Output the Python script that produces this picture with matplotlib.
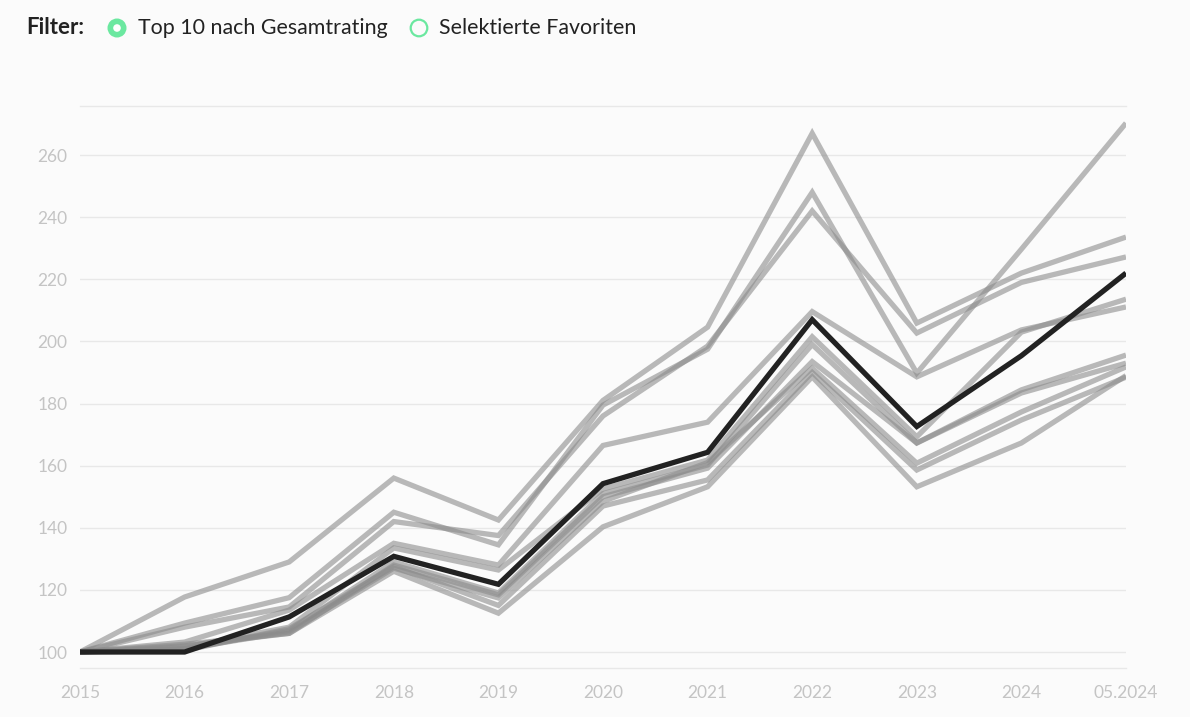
import matplotlib
matplotlib.use("Agg")
import matplotlib.pyplot as plt
from matplotlib.patches import Circle

# --- data (indexed, 2015 = 100) ---
periods = ["2015", "2016", "2017", "2018", "2019", "2020",
           "2021", "2022", "2023", "2024", "05.2024"]

highlight = [100, 100, 111.3, 130.8, 121.8, 154.2, 164.3, 207.0, 172.6, 195.4, 222.0]

fund_1 = [100, 117.7, 129.0, 156.0, 142.5, 181.0, 204.6, 267.0, 205.9, 222.0, 233.6]
fund_2 = [100, 109.3, 117.5, 145.0, 134.5, 179.5, 197.5, 248.0, 189.8, 229.7, 270.3]
fund_3 = [100, 108.0, 114.5, 142.0, 137.5, 176.0, 198.5, 242.0, 202.7, 219.0, 227.2]
fund_4 = [100, 103.2, 113.5, 135.0, 128.0, 166.5, 174.0, 209.6, 188.6, 203.7, 211.1]
fund_5 = [100, 101.6, 108.0, 133.5, 126.4, 152.5, 161.8, 201.5, 169.3, 203.0, 213.6]
fund_6 = [100, 101.0, 107.0, 129.0, 119.0, 151.0, 160.2, 199.0, 167.3, 184.4, 195.6]
fund_7 = [100, 102.0, 106.0, 128.0, 118.4, 150.0, 159.2, 193.5, 167.3, 183.4, 193.0]
fund_8 = [100, 101.0, 106.5, 127.0, 117.4, 148.5, 161.0, 191.4, 160.8, 177.3, 191.8]
fund_9 = [100, 100.5, 107.5, 127.5, 115.0, 147.0, 155.4, 190.0, 158.6, 174.7, 188.5]
fund_10 = [100, 102.5, 106.0, 126.0, 112.5, 140.3, 153.2, 188.6, 153.2, 167.3, 189.0]

funds = [fund_1, fund_2, fund_3, fund_4, fund_5,
         fund_6, fund_7, fund_8, fund_9, fund_10]

y_ticks = [100, 120, 140, 160, 180, 200, 220, 240, 260]

W, H = 1190, 717
BG = "#fbfbfb"
GRID = "#e8e8e8"
TICK = "#c4c4c4"
GREEN = "#6be8a0"

plt.rcParams["font.family"] = ["Lato", "DejaVu Sans"]

fig = plt.figure(figsize=(W / 100, H / 100), dpi=100, facecolor=BG)

left, right, top, bottom = 80, 1126, 106, 668
ax = fig.add_axes([left / W, 1 - bottom / H, (right - left) / W, (bottom - top) / H])
ax.set_facecolor(BG)

x = list(range(len(periods)))
for f in funds:
    ax.plot(x, f, color="#8c8c8c", alpha=0.6, linewidth=3.8,
            solid_joinstyle="miter", solid_capstyle="butt", zorder=2)
ax.plot(x, highlight, color="#222222", linewidth=3.8,
        solid_joinstyle="miter", solid_capstyle="butt", zorder=3)

ax.set_xlim(0, len(periods) - 1)
ax.set_ylim(94.85, 275.8)
ax.set_xticks(x)
ax.set_xticklabels(periods)
ax.set_yticks(y_ticks)
ax.tick_params(axis="both", length=0, colors=TICK, labelsize=12.5)
ax.tick_params(axis="y", pad=9)
ax.tick_params(axis="x", pad=12)
ax.grid(axis="y", color=GRID, linewidth=1, zorder=0)
for s in ["left", "right"]:
    ax.spines[s].set_visible(False)
for s in ["top", "bottom"]:
    ax.spines[s].set_color(GRID)
    ax.spines[s].set_linewidth(1)

# --- filter header (radio buttons) ---
hdr = fig.add_axes([0, 0, 1, 1], facecolor="none")
hdr.set_xlim(0, W)
hdr.set_ylim(H, 0)
hdr.axis("off")
hdr.text(26, 28, "Filter:", fontsize=16, fontweight="bold", color="#222222",
         va="center", ha="left")
hdr.add_patch(Circle((117, 28), 9.5, facecolor=GREEN, edgecolor=GREEN, lw=0))
hdr.add_patch(Circle((117, 28), 3.8, facecolor="white", edgecolor="none"))
hdr.text(138, 28, "Top 10 nach Gesamtrating", fontsize=15.4, color="#222222",
         va="center", ha="left")
hdr.add_patch(Circle((419, 28), 8.3, facecolor="none", edgecolor=GREEN, lw=1.6))
hdr.text(439, 28, "Selektierte Favoriten", fontsize=15.4, color="#222222",
         va="center", ha="left")

fig.savefig("out.png", dpi=100, facecolor=BG)
